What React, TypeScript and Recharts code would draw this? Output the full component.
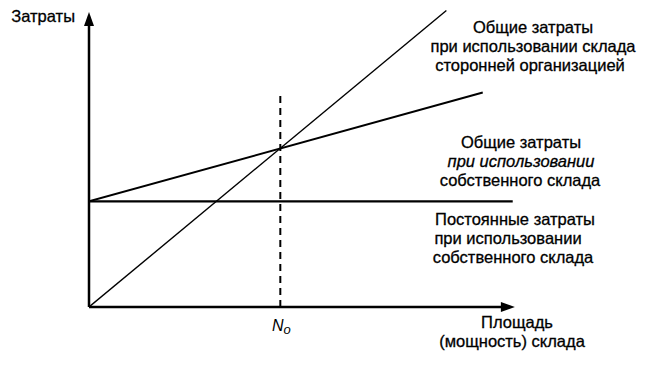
import React from 'react';
import { ComposedChart, XAxis, YAxis, Line, ReferenceLine, ReferenceDot } from 'recharts';

// break-even chart: own warehouse vs. third-party warehouse
const fixedCosts = [
  { x: 0, y: 35 },
  { x: 99, y: 35 },
];
const ownTotal = [
  { x: 0, y: 35 },
  { x: 92, y: 71 },
];
const thirdPartyTotal = [
  { x: 0, y: 0 },
  { x: 83.5, y: 98.2 },
];
const breakEvenX = 44.7;
const breakEvenTop = 70;
const axisEnd = { x: 99.5, y: 97.7 };

const W = 653;
const H = 365;
const font = '"Liberation Sans", Arial, sans-serif';

const ArrowUp = (props: any) => {
  const { cx, cy } = props;
  return <path d={`M${cx},${cy} L${cx - 5},${cy + 14} L${cx + 5},${cy + 14} Z`} fill="#000" />;
};

const ArrowRight = (props: any) => {
  const { cx, cy } = props;
  return <path d={`M${cx},${cy} L${cx - 14},${cy - 5} L${cx - 14},${cy + 5} Z`} fill="#000" />;
};

const labels: Array<{ x: number; y: number; text: string; italic?: boolean; anchor?: string }> = [
  { x: 75, y: 22, text: 'Затраты', anchor: 'end' },
  { x: 533, y: 33, text: 'Общие затраты' },
  { x: 533, y: 52, text: 'при использовании склада' },
  { x: 530, y: 71, text: 'сторонней организацией' },
  { x: 521, y: 148, text: 'Общие затраты' },
  { x: 521, y: 167, text: 'при использовании', italic: true },
  { x: 520, y: 186, text: 'собственного склада' },
  { x: 515, y: 225, text: 'Постоянные затраты' },
  { x: 508, y: 244, text: 'при использовании' },
  { x: 513, y: 263, text: 'собственного склада' },
  { x: 517, y: 328, text: 'Площадь' },
  { x: 512, y: 347, text: '(мощность) склада' },
];

export default function App() {
  return (
    <div style={{ position: 'absolute', left: 0, top: 0, width: W, height: H, background: '#fff' }}>
      <ComposedChart width={W} height={H} margin={{ top: 5, right: 136, bottom: 58, left: 89 }}>
        <XAxis type="number" dataKey="x" domain={[0, 100]} hide allowDataOverflow />
        <YAxis type="number" dataKey="y" domain={[0, 100]} hide allowDataOverflow />
        <ReferenceLine
          segment={[{ x: 0, y: 0 }, { x: 0, y: axisEnd.y - 2 }]}
          stroke="#000"
          strokeWidth={2.5}
          ifOverflow="visible"
        />
        <ReferenceLine
          segment={[{ x: 0, y: 0 }, { x: axisEnd.x - 2, y: 0 }]}
          stroke="#000"
          strokeWidth={2.5}
          ifOverflow="visible"
        />
        <ReferenceDot x={0} y={axisEnd.y} r={0} shape={ArrowUp} ifOverflow="visible" />
        <ReferenceDot x={axisEnd.x} y={0} r={0} shape={ArrowRight} ifOverflow="visible" />
        <ReferenceLine
          segment={[{ x: breakEvenX, y: 0 }, { x: breakEvenX, y: breakEvenTop }]}
          stroke="#000"
          strokeWidth={2}
          strokeDasharray="7 5"
          ifOverflow="visible"
        />
        <Line data={fixedCosts} dataKey="y" stroke="#000" strokeWidth={2.2} dot={false} isAnimationActive={false} />
        <Line data={ownTotal} dataKey="y" stroke="#000" strokeWidth={2} dot={false} isAnimationActive={false} />
        <Line data={thirdPartyTotal} dataKey="y" stroke="#000" strokeWidth={1.4} dot={false} isAnimationActive={false} />
      </ComposedChart>
      <svg width={W} height={H} style={{ position: 'absolute', left: 0, top: 0, pointerEvents: 'none' }}>
        {labels.map((l, i) => (
          <text
            key={i}
            x={l.x}
            y={l.y}
            textAnchor={l.anchor ?? 'middle'}
            fontFamily={font}
            fontSize={16.5}
            fontStyle={l.italic ? 'italic' : 'normal'}
            fill="#000"
            stroke="#000"
            strokeWidth={0.3}
          >
            {l.text}
          </text>
        ))}
        <text x={272} y={331} fontFamily={font} fontSize={16} fontStyle="italic" fill="#000">
          N
          <tspan fontSize={13} dy={3}>o</tspan>
        </text>
      </svg>
    </div>
  );
}
